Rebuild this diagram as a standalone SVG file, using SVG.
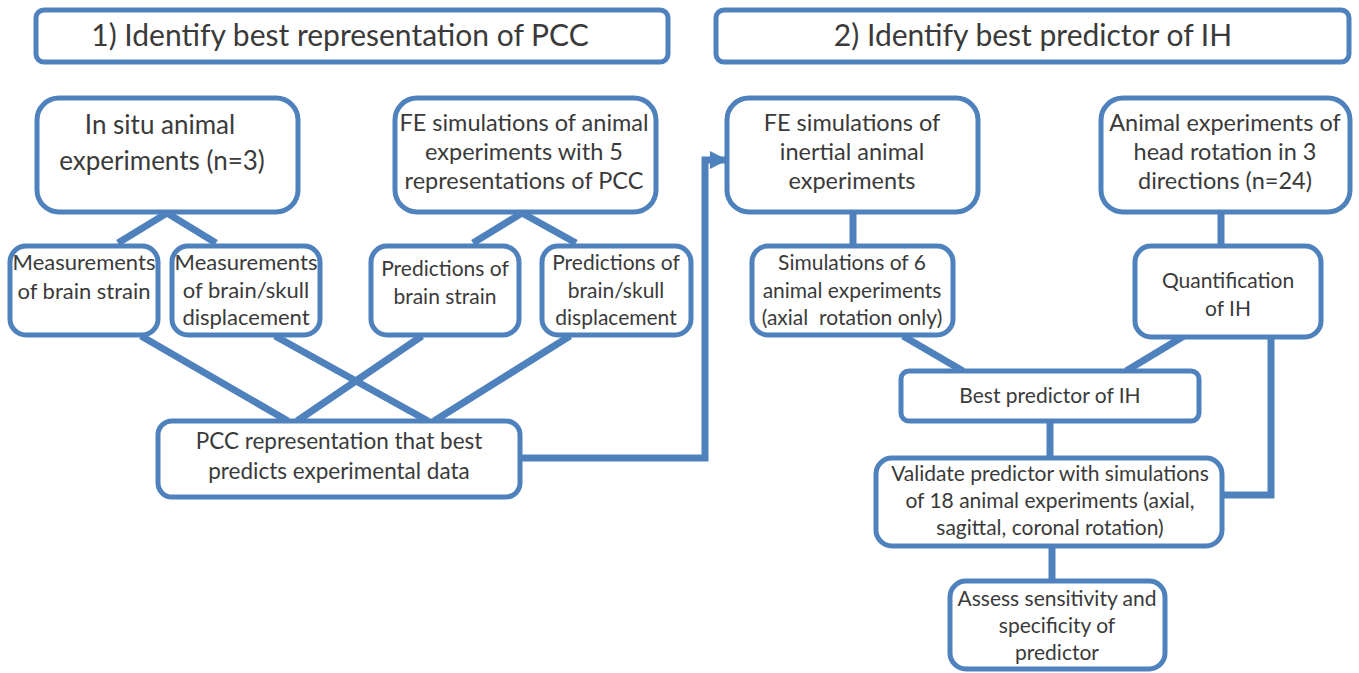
<svg xmlns="http://www.w3.org/2000/svg" width="1359" height="673" viewBox="0 0 1359 673">
<defs>
<marker id="arr" viewBox="0 0 10 10" refX="9" refY="5" markerWidth="2.6" markerHeight="3" orient="auto" markerUnits="strokeWidth">
<path d="M0,0 L10,5 L0,10 z" fill="#4F81BD"/>
</marker>
</defs>
<style>
.box{fill:#fff;stroke:#4F81BD;stroke-width:5}
.c{fill:none;stroke:#4F81BD;stroke-width:7}
text{font-family:Lato,"Open Sans","Liberation Sans",sans-serif;fill:#3a3a3a;text-anchor:middle}
.t{font-size:30px}
.n{font-size:23.5px}
.m{font-size:21px}
</style>
<rect width="1359" height="673" fill="#fff"/>
<g id="connectors">
<polyline class="c" points="118,243 167,213 216,243"/>
<polyline class="c" points="473,243 522,213 576,243"/>
<line class="c" x1="141" y1="336" x2="288" y2="421"/>
<line class="c" x1="275" y1="336" x2="428" y2="421"/>
<line class="c" x1="422" y1="336" x2="297" y2="421"/>
<line class="c" x1="570" y1="336" x2="434" y2="421"/>
<polyline class="c" points="520,458 705,458 705,160 726,160" marker-end="url(#arr)"/>
<line class="c" x1="853" y1="212" x2="853" y2="247"/>
<line class="c" x1="1221" y1="212" x2="1221" y2="247"/>
<line class="c" x1="903" y1="336" x2="963" y2="371"/>
<line class="c" x1="1184" y1="336" x2="1126" y2="371"/>
<line class="c" x1="1050" y1="421" x2="1050" y2="458"/>
<polyline class="c" points="1271,336 1271,495 1222,495"/>
<line class="c" x1="1052" y1="546" x2="1052" y2="581"/>
</g>
<g id="title1"><rect class="box" x="36" y="10" width="632" height="52" rx="8"/><text class="t" x="340" y="46">1) Identify best representation of PCC</text></g>
<g id="title2"><rect class="box" x="716" y="10" width="633" height="52" rx="8"/><text class="t" x="1033" y="46">2) Identify best predictor of IH</text></g>
<g id="insitu"><rect class="box" x="37" y="98" width="261" height="114" rx="22"/><text font-size="26" x="160" y="134">In situ animal</text><text font-size="26" x="162" y="170">experiments (n=3)</text></g>
<g id="fepcc"><rect class="box" x="395" y="98" width="261" height="114" rx="22"/><text class="n" x="524" y="131">FE simulations of animal</text><text class="n" x="524" y="160">experiments with 5</text><text class="n" x="524" y="189">representations of PCC</text></g>
<g id="feinertial"><rect class="box" x="727" y="98" width="251" height="114" rx="22"/><text class="n" x="852" y="131">FE simulations of</text><text class="n" x="852" y="160">inertial animal</text><text class="n" x="852" y="189">experiments</text></g>
<g id="animalhead"><rect class="box" x="1101" y="98" width="249" height="114" rx="22"/><text class="n" x="1225" y="131">Animal experiments of</text><text class="n" x="1225" y="160">head rotation in 3</text><text class="n" x="1225" y="189">directions (n=24)</text></g>
<g id="measstrain"><rect class="box" x="10" y="246" width="148" height="89" rx="16"/><text font-size="22" x="84" y="270">Measurements</text><text font-size="22" x="84" y="299">of brain strain</text></g>
<g id="measdisp"><rect class="box" x="172" y="246" width="148" height="89" rx="16"/><text font-size="22" x="246" y="270">Measurements</text><text font-size="22" x="246" y="298">of brain/skull</text><text font-size="22" x="246" y="325">displacement</text></g>
<g id="predstrain"><rect class="box" x="371" y="246" width="148" height="89" rx="16"/><text class="m" x="445" y="276">Predictions of</text><text class="m" x="445" y="304">brain strain</text></g>
<g id="preddisp"><rect class="box" x="542" y="246" width="149" height="89" rx="16"/><text class="m" x="616" y="270">Predictions of</text><text class="m" x="616" y="298">brain/skull</text><text class="m" x="616" y="325">displacement</text></g>
<g id="pcc"><rect class="box" x="158" y="421" width="362" height="76" rx="14"/><text font-size="22.5" x="339" y="449">PCC representation that best</text><text font-size="22.5" x="339" y="479">predicts experimental data</text></g>
<g id="sim6"><rect class="box" x="752" y="246" width="201" height="89" rx="16"/><text class="m" x="852" y="270">Simulations of 6</text><text class="m" x="852" y="298">animal experiments</text><text class="m" x="852" y="325" xml:space="preserve">(axial  rotation only)</text></g>
<g id="quant"><rect class="box" x="1135" y="246" width="186" height="91" rx="16"/><text class="m" x="1228" y="288">Quantification</text><text class="m" x="1228" y="316">of IH</text></g>
<g id="best"><rect class="box" x="901" y="371" width="298" height="50" rx="8"/><text class="m" x="1050" y="403">Best predictor of IH</text></g>
<g id="validate"><rect class="box" x="876" y="458" width="346" height="88" rx="16"/><text class="m" x="1050" y="481">Validate predictor with simulations</text><text class="m" x="1050" y="508">of 18 animal experiments (axial,</text><text class="m" x="1050" y="535">sagittal, coronal rotation)</text></g>
<g id="assess"><rect class="box" x="950" y="581" width="215" height="88" rx="16"/><text class="m" x="1057" y="606">Assess sensitivity and</text><text class="m" x="1057" y="633">specificity of</text><text class="m" x="1057" y="660">predictor</text></g>
</svg>
